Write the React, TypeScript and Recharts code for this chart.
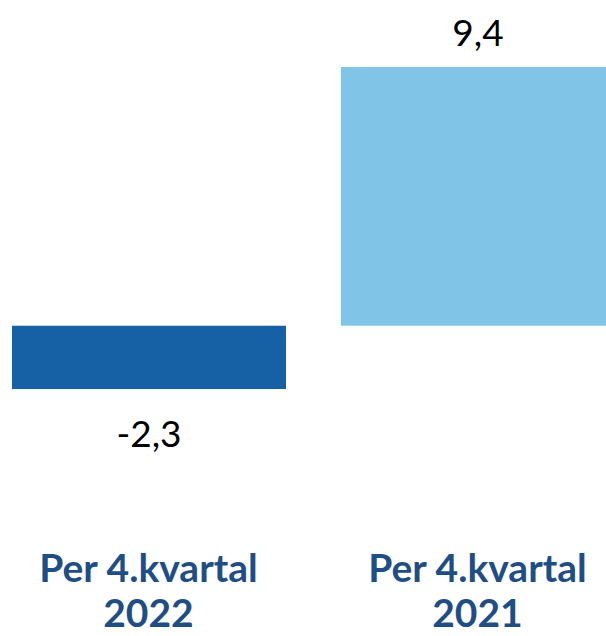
import { Bar, BarChart, Cell, LabelList, XAxis, YAxis } from "recharts";

const periods = ["Per 4.kvartal|2022", "Per 4.kvartal|2021"];
const changes = [-2.3, 9.4];
const barColors = ["#1660A5", "#80C5E8"];

const data = periods.map((period, i) => ({ period, value: changes[i] }));

const FONT = "Lato, 'Open Sans', sans-serif";

function CategoryTick(props: any) {
  const { x, y, payload } = props;
  const [line1, line2] = String(payload.value).split("|");
  return (
    <g>
      <text x={x} y={y + 193} textAnchor="middle" fontFamily={FONT} fontWeight={700} fontSize={39} fill="#1F4E85">
        {line1}
      </text>
      <text x={x} y={y + 238} textAnchor="middle" fontFamily={FONT} fontWeight={700} fontSize={39} fill="#1F4E85">
        {line2}
      </text>
    </g>
  );
}

function ValueLabel(props: any) {
  const { x, y, width, height, value } = props;
  const top = Math.min(y, y + height);
  const bottom = Math.max(y, y + height);
  const cy = value >= 0 ? top - 36 : bottom + 43;
  return (
    <text
      x={x + width / 2}
      y={cy}
      textAnchor="middle"
      dominantBaseline="central"
      fontFamily={FONT}
      fontSize={37}
      fill="#000"
    >
      {String(value).replace(".", ",")}
    </text>
  );
}

export default function App() {
  return (
    <div style={{ position: "absolute", left: 0, top: 0, width: 606, height: 636, overflow: "hidden", background: "#fff" }}>
      <div style={{ marginLeft: -16 }}>
        <BarChart width={658} height={636} data={data} margin={{ top: 67, right: 0, bottom: 0, left: 0 }} barSize={274}>
          <XAxis
            dataKey="period"
            axisLine={false}
            tickLine={false}
            tickSize={0}
            tickMargin={0}
            height={247}
            tick={<CategoryTick />}
            interval={0}
          />
          <YAxis hide domain={[-2.3, 9.4]} />
          <Bar dataKey="value" isAnimationActive={false}>
            {data.map((d, i) => (
              <Cell key={d.period} fill={barColors[i]} />
            ))}
            <LabelList dataKey="value" content={<ValueLabel />} />
          </Bar>
        </BarChart>
      </div>
    </div>
  );
}
